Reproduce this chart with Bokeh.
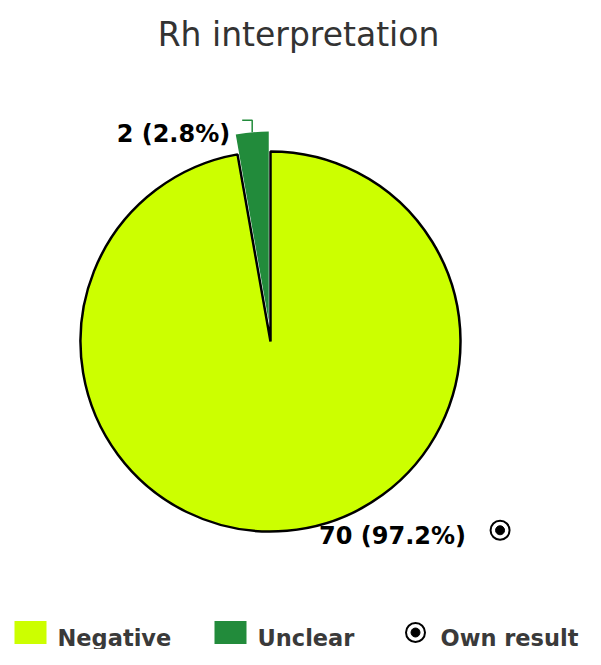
import math
from bokeh.plotting import figure
from bokeh.models import Range1d
from bokeh.core.properties import value
from bokeh.embed import file_html
from bokeh.resources import INLINE

# ---- data ----
title = "Rh interpretation"
categories = ["Negative", "Unclear"]
counts = [70, 2]
colors = ["#CCFF00", "#228B3B"]
exploded = [False, True]
own_result = "Negative"
legend_own = "Own result"

W, H = 585, 649
p = figure(width=W, height=H, output_backend="svg", toolbar_location=None,
           x_range=Range1d(0, W), y_range=Range1d(0, H), min_border=0)
p.axis.visible = False
p.grid.visible = False
p.outline_line_color = None
p.background_fill_color = "white"
p.border_fill_color = "white"

FONT = value("DejaVu Sans")
cx, cy, R = 270, 308, 190
explode_dist = 20
total = sum(counts)

# title
p.text(x=[298], y=[615], text=[title], text_font=FONT, text_font_size="33px",
       text_align="center", text_baseline="alphabetic", text_color="#333333")

start = 90.0
for cat, c, col, ex in zip(categories, counts, colors, exploded):
    sweep = 360.0 * c / total
    end = start - sweep
    mid = math.radians((start + end) / 2)
    ox = explode_dist * math.cos(mid) if ex else 0
    oy = explode_dist * math.sin(mid) if ex else 0
    p.wedge(x=[cx + ox], y=[cy + oy], radius=[R],
            start_angle=[math.radians(end)], end_angle=[math.radians(start)],
            fill_color=col,
            line_color=None if ex else "black", line_width=2.5)
    label = f"{c} ({100.0 * c / total:.1f}%)"
    ax = cx + ox + R * math.cos(mid)
    ay = cy + oy + R * math.sin(mid)
    if math.sin(mid) > 0:
        # label above: connector up then left
        p.line(x=[ax, ax, ax - 10], y=[ay, ay + 12, ay + 12],
               line_color=col, line_width=1.5)
        p.text(x=[ax - 22], y=[ay - 2], text=[label], text_font=FONT,
               text_font_size="24px", text_font_style="bold",
               text_align="right", text_baseline="alphabetic", text_color="black")
    else:
        tx = ax + 32
        p.text(x=[tx], y=[ay - 5], text=[label], text_font=FONT,
               text_font_size="24px", text_font_style="bold",
               text_align="left", text_baseline="alphabetic", text_color="black")
        if cat == own_result:
            mx = tx + 181
            p.scatter(x=[mx], y=[ay + 0.5], size=19, marker="circle",
                      fill_color="white", line_color="black", line_width=2)
            p.scatter(x=[mx], y=[ay + 0.5], size=9, marker="circle",
                      fill_color="black", line_color="black")
    start = end

# legend
leg_y = 17
txt_y = 12
leg_x = [30, 230]
for lx, cat, col in zip(leg_x, categories, colors):
    p.rect(x=[lx], y=[leg_y], width=32, height=23, fill_color=col, line_color=None)
    p.text(x=[lx + 27], y=[txt_y], text=[cat], text_font=FONT, text_font_size="22.5px",
           text_font_style="bold", text_align="left", text_baseline="alphabetic",
           text_color="#3a3a3a")
p.scatter(x=[415], y=[leg_y], size=19, marker="circle", fill_color="white",
          line_color="black", line_width=2)
p.scatter(x=[415], y=[leg_y], size=9, marker="circle", fill_color="black",
          line_color="black")
p.text(x=[440], y=[txt_y], text=[legend_own], text_font=FONT, text_font_size="22.5px",
       text_font_style="bold", text_align="left", text_baseline="alphabetic",
       text_color="#3a3a3a")

open("out.html", "w").write(file_html(p, INLINE))
